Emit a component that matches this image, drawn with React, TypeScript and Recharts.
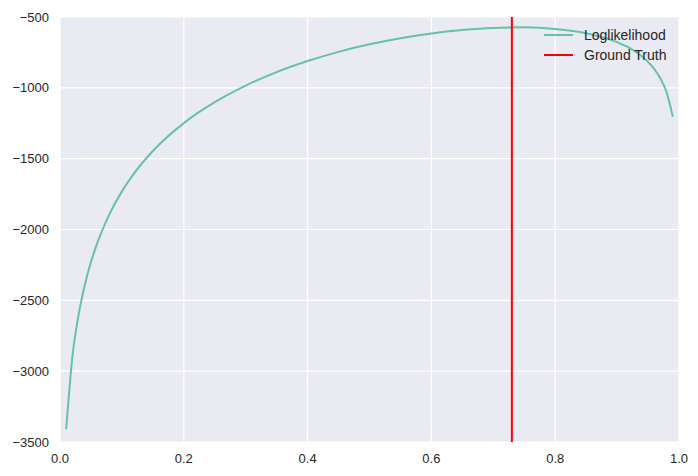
import { CartesianGrid, Line, LineChart, XAxis, YAxis } from "recharts";

// mixing proportion p vs. log-likelihood
const pValues = [
  0.01, 0.02, 0.03, 0.04, 0.05, 0.06, 0.08, 0.1, 0.12, 0.15, 0.2, 0.25, 0.3, 0.35, 0.4, 0.45,
  0.5, 0.55, 0.6, 0.65, 0.7, 0.75, 0.8, 0.85, 0.9, 0.92, 0.94, 0.95, 0.96, 0.97, 0.98, 0.99
];
const logLik = [
  -3410, -2900, -2603, -2393, -2230, -2098, -1891, -1731, -1602, -1446, -1249, -1101, -984, -889,
  -811, -746, -693, -650, -616, -592, -577, -573, -584, -614, -677, -718, -777, -817, -867, -934,
  -1032, -1205
];
const groundTruth = 0.73;
const xTicks = [0, 0.2, 0.4, 0.6, 0.8, 1.0];
const yTicks = [-3500, -3000, -2500, -2000, -1500, -1000, -500];

const curveData = pValues.map((p, i) => ({ p, ll: logLik[i] }));
const truthData = [
  { p: groundTruth, ll: yTicks[0] },
  { p: groundTruth, ll: yTicks[yTicks.length - 1] }
];

const LINE_COLOR = "#66c2a5";
const TRUTH_COLOR = "#ff0000";
const legendItems = [
  { name: "Loglikelihood", color: LINE_COLOR },
  { name: "Ground Truth", color: TRUTH_COLOR }
];

const FONT = "'Liberation Sans', Arial, sans-serif";
const TICK = { fill: "#262626", fontSize: 13, fontFamily: FONT };

export default function App() {
  return (
    <div style={{ position: "absolute", left: 0, top: 0, background: "#fff" }}>
      <LineChart width={698} height={476} margin={{ top: 17, right: 19, left: 0, bottom: 0 }}>
        <CartesianGrid fill="#EAEAF2" stroke="#ffffff" strokeWidth={1.2} />
        <XAxis
          type="number"
          dataKey="p"
          domain={[0, 1]}
          ticks={xTicks}
          interval={0}
          tickFormatter={(v: number) => v.toFixed(1)}
          axisLine={false}
          tickLine={false}
          tickSize={0}
          tickMargin={12}
          height={34}
          tick={TICK}
        />
        <YAxis
          type="number"
          dataKey="ll"
          domain={[-3500, -500]}
          ticks={yTicks}
          interval={0}
          tickFormatter={(v: number) => String(v).replace("-", "\u2212")}
          axisLine={false}
          tickLine={false}
          tickSize={0}
          tickMargin={11}
          width={60}
          tick={TICK}
        />
        <Line
          data={curveData}
          dataKey="ll"
          name="Loglikelihood"
          type="monotone"
          stroke={LINE_COLOR}
          strokeWidth={2}
          dot={false}
          isAnimationActive={false}
        />
        <Line
          data={truthData}
          dataKey="ll"
          name="Ground Truth"
          type="linear"
          stroke={TRUTH_COLOR}
          strokeWidth={2}
          dot={false}
          isAnimationActive={false}
        />
      </LineChart>
      <div
        style={{
          position: "absolute",
          left: 544,
          top: 25,
          fontFamily: FONT,
          fontSize: 14,
          color: "#262626"
        }}
      >
        {legendItems.map((item) => (
          <div key={item.name} style={{ display: "flex", alignItems: "center", height: 20 }}>
            <svg width={29} height={4} style={{ marginRight: 11 }}>
              <line x1={0} y1={2} x2={29} y2={2} stroke={item.color} strokeWidth={2} />
            </svg>
            <span>{item.name}</span>
          </div>
        ))}
      </div>
    </div>
  );
}
